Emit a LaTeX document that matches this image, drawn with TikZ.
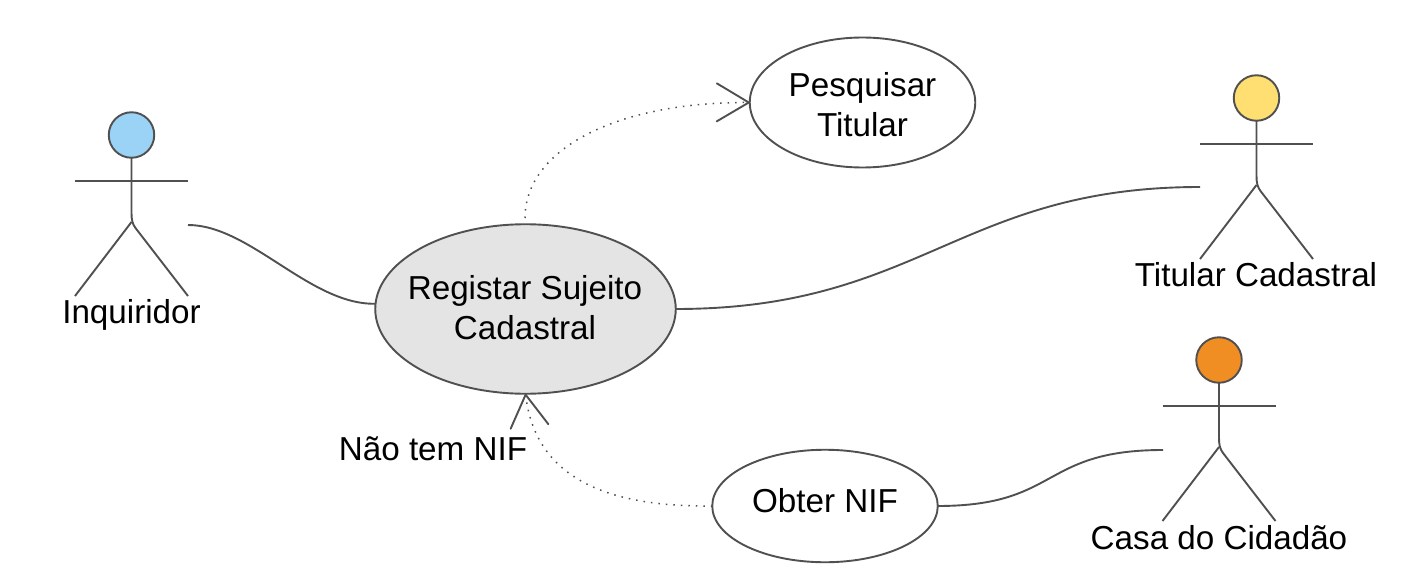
\documentclass[tikz,border=0pt]{standalone}
\usepackage{fontspec}
\setmainfont{Liberation Sans}
\usetikzlibrary{arrows.meta,shapes.geometric}
\definecolor{linec}{HTML}{505050}
\definecolor{casefill}{HTML}{E4E4E4}
\definecolor{headblue}{HTML}{9AD3F6}
\definecolor{headyellow}{HTML}{FFDF71}
\definecolor{headorange}{HTML}{F18E23}
\tikzset{
  x=1pt,y=-1pt,
  every node/.style={inner sep=0pt,outer sep=0pt},
  line/.style={draw=linec,line width=1.9pt},
  usecase/.style={ellipse,draw=linec,line width=1.9pt,fill=white},
  label/.style={font=\fontsize{33.2}{40}\selectfont,text=black,anchor=center,align=center},
  assoc/.style={draw=linec,line width=1.9pt},
  dep/.style={draw=linec,line width=1.5pt,dash pattern=on 1.5pt off 6pt,
    -{Straight Barb[length=32pt,width=38pt,round,line width=1.9pt]}},
  actor/.pic={
    \node[circle,draw=linec,line width=1.9pt,fill=#1,minimum size=45.5pt] (head) at (0,0) {};
    \draw[line] (head.south) -- (0,78) .. controls (0,85) and (1,89) .. (4,93) -- (56.5,161);
    \draw[line] (0,87) -- (-56.5,161);
    \coordinate (armL) at (-56.5,46);
    \coordinate (armR) at (56.5,46);
    \draw[line] (armL) -- (armR);
  }
}
\begin{document}
\begin{tikzpicture}
\useasboundingbox (0,0) rectangle (1413,580);
\fill[white] (0,0) rectangle (1413,580);

\node[usecase,fill=casefill,minimum width=300.5pt,minimum height=169.5pt] (main) at (525.5,309) {};
\node[usecase,minimum width=225.5pt,minimum height=130pt] (pesq) at (862.5,102.5) {};
\node[usecase,minimum width=225.5pt,minimum height=112.5pt] (obter) at (825,506) {};

\node[label] (maintext) at (525,308) {Registar Sujeito\\Cadastral};
\node[label] (pesqtext) at (862.5,105) {Pesquisar\\Titular};
\node[label] (obtertext) at (825,501) {Obter NIF};

\pic (inq) at (131.5,135) {actor=headblue};
\pic (tit) at (1256.5,98) {actor=headyellow};
\pic (casa) at (1219,360) {actor=headorange};

\node[label] (inqlabel) at (131.5,315) {Inquiridor};
\node[label] (titlabel) at (1256,275) {Titular Cadastral};
\node[label] (casalabel) at (1219,538) {Casa do Cidadão};
\node[label] (naotem) at (433,449) {Não tem NIF};

\coordinate (inqend) at (188,225);
\coordinate (titend) at (1200,187);
\coordinate (casaend) at (1163,450);
\coordinate (depstart) at (525,218);

\draw[assoc] (inqend) .. controls (250,225) and (310,305) .. (main.178.5);
\draw[assoc] (main.east) .. controls (920,309) and (960,187) .. (titend);
\draw[assoc] (obter.east) .. controls (1060,506) and (1040,450) .. (casaend);
\draw[dep] (depstart) .. controls (525,150) and (615,102) .. (pesq.west);
\draw[dep] (obter.west) .. controls (610,507) and (536,480) .. (main.south);
\end{tikzpicture}
\end{document}
